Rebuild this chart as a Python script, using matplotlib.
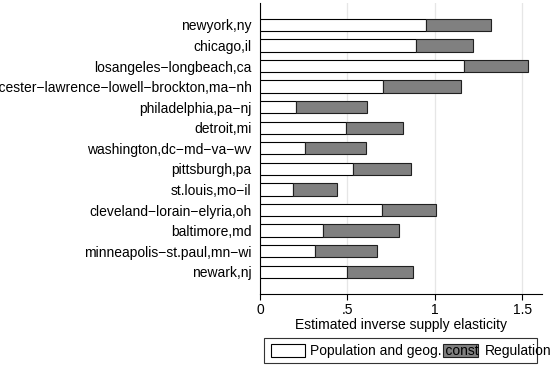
import matplotlib
matplotlib.use("Agg")
import matplotlib.pyplot as plt
from matplotlib.patches import Rectangle

plt.rcParams['font.family'] = ['Liberation Sans', 'DejaVu Sans']

# metro areas, top to bottom
cities = ["newyork,ny", "chicago,il", "losangeles-longbeach,ca",
          "worcester-lawrence-lowell-brockton,ma-nh", "philadelphia,pa-nj",
          "detroit,mi", "washington,dc-md-va-wv", "pittsburgh,pa",
          "st.louis,mo-il", "cleveland-lorain-elyria,oh", "baltimore,md",
          "minneapolis-st.paul,mn-wi", "newark,nj"]
# population and geography component
pop_geog = [0.947, 0.890, 1.168, 0.703, 0.206, 0.491, 0.255,
            0.531, 0.189, 0.697, 0.358, 0.312, 0.495]
# regulation component (stacked on top)
regulation = [0.375, 0.327, 0.363, 0.444, 0.407, 0.328, 0.351,
              0.330, 0.253, 0.307, 0.438, 0.355, 0.377]
xticks = [0, 0.5, 1, 1.5]
xticklabels = ["0", ".5", "1", "1.5"]
legend_labels = ["Population and geog. const", "Regulation"]

grey = "#808080"

fig = plt.figure(figsize=(5.55, 3.67), dpi=100)
ax = fig.add_axes([0.4685, 0.198, 0.5075, 0.794])

n = len(cities)
ypos = [n - 1 - i for i in range(n)]
ax.barh(ypos, pop_geog, height=0.6, color="white", edgecolor="black",
        linewidth=0.8, zorder=3)
ax.barh(ypos, regulation, left=pop_geog, height=0.6, color=grey,
        edgecolor="#202020", linewidth=0.8, zorder=3)

ax.set_ylim(-1.1, n - 1 + 1.07)
ax.set_xlim(0, 1.61)
ax.set_yticks(ypos)
ax.set_yticklabels([c.replace("-", "\u2212") for c in cities], fontsize=10)
ax.tick_params(axis="y", length=0, pad=6)
ax.set_xticks(xticks)
ax.set_xticklabels(xticklabels, fontsize=10)
ax.tick_params(axis="x", length=4, width=0.8, pad=2)
ax.set_xlabel("Estimated inverse supply elasticity", fontsize=10, labelpad=1)

for s in ["top", "right"]:
    ax.spines[s].set_visible(False)
for s in ["left", "bottom"]:
    ax.spines[s].set_linewidth(0.8)

ax.grid(axis="x", color="#e6e6e6", linewidth=0.9, zorder=0)
ax.set_axisbelow(True)

# hand-built legend box below the axes
W, H = 555.0, 367.0
def fx(px):
    return px / W
def fy(py):
    return 1 - py / H

fig.patches.append(Rectangle((fx(264), fy(363.3)), fx(537) - fx(264),
                             fy(337.7) - fy(363.3), transform=fig.transFigure,
                             facecolor="white", edgecolor="#333333",
                             linewidth=0.8, zorder=1))
fig.patches.append(Rectangle((fx(270.5), fy(356.5)), fx(305) - fx(270.5),
                             fy(344) - fy(356.5), transform=fig.transFigure,
                             facecolor="white", edgecolor="black",
                             linewidth=0.8, zorder=2))
fig.patches.append(Rectangle((fx(442.5), fy(356.5)), fx(478) - fx(442.5),
                             fy(344) - fy(356.5), transform=fig.transFigure,
                             facecolor=grey, edgecolor="#202020",
                             linewidth=0.8, zorder=2))
fig.text(fx(310), fy(350.5), legend_labels[0], fontsize=10, va="center",
         ha="left", zorder=5)
fig.text(fx(485), fy(350.5), legend_labels[1], fontsize=10, va="center",
         ha="left", zorder=5)

fig.savefig("out.png", dpi=100)
